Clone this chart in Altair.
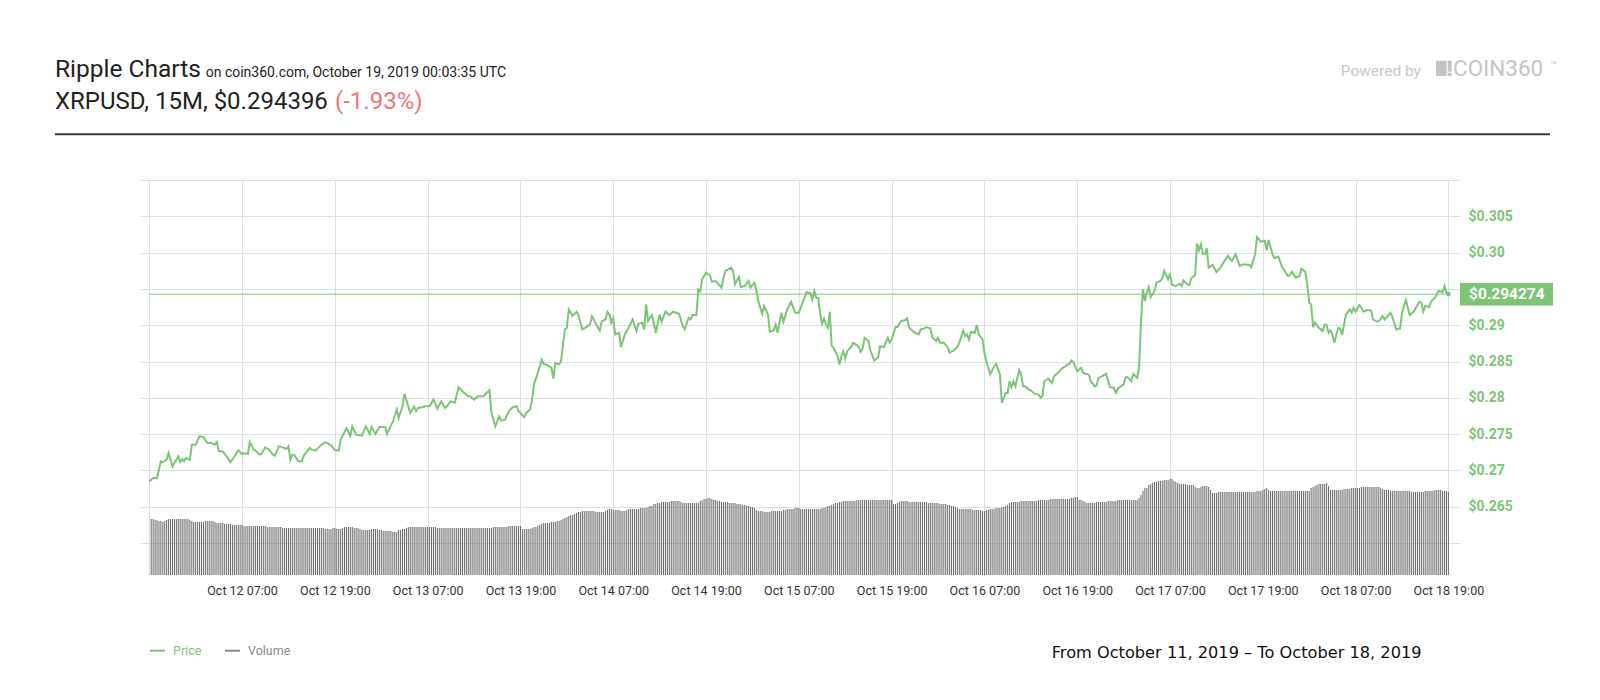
import altair as alt
import pandas as pd

# ---------------- data ----------------
START = "2019-10-11 19:00"          # time of the first (left-most) gridline
current_price = 0.294274
current_label = "$0.294274"

# price samples: hours after START, price in USD
price_hours = [
    0.0, 0.5, 1.0, 1.5, 1.75, 2.25, 2.5, 3.0, 3.25, 3.75, 4.0, 4.25, 4.5, 4.75, 5.25, 5.5, 6.0, 6.5, 7.0, 7.5,
    8.0, 8.5, 8.75, 9.0, 9.5, 10.0, 10.5, 10.75, 11.5, 12.0, 12.25, 12.75, 13.0, 13.5, 13.75, 14.25, 14.5, 15.0, 15.5, 16.0,
    16.25, 16.75, 17.25, 17.75, 18.0, 18.25, 18.5, 18.75, 19.25, 19.75, 20.0, 20.75, 21.0, 21.5, 22.25, 22.75, 23.0, 23.5, 24.0, 24.5,
    24.75, 25.5, 26.0, 26.25, 26.75, 27.5, 28.0, 28.5, 28.75, 29.25, 29.75, 30.5, 30.75, 31.25, 31.5, 32.0, 32.25, 32.75, 33.0, 33.75,
    34.25, 34.5, 34.75, 35.25, 35.75, 36.25, 36.75, 37.25, 37.75, 38.25, 38.5, 39.0, 39.5, 40.0, 40.75, 41.25, 41.5, 42.0, 42.5, 43.25,
    43.5, 44.0, 44.25, 44.75, 45.25, 45.5, 46.0, 46.5, 47.0, 47.5, 47.75, 48.5, 48.75, 49.25, 49.5, 49.75, 50.25, 50.75, 51.0, 51.5,
    52.0, 52.25, 52.5, 53.0, 53.25, 53.5, 53.75, 54.0, 54.25, 54.75, 55.25, 55.5, 56.0, 56.5, 57.0, 57.25, 57.75, 58.25, 58.5, 59.0,
    59.25, 59.5, 59.75, 60.0, 60.25, 60.75, 61.0, 61.5, 61.75, 62.25, 62.5, 63.0, 63.25, 63.75, 64.0, 64.25, 64.5, 65.0, 65.5, 66.0,
    66.25, 66.75, 67.25, 67.75, 68.5, 69.0, 69.25, 69.75, 70.0, 70.25, 70.75, 71.0, 71.25, 71.5, 72.0, 72.5, 72.75, 73.25, 74.0, 74.25,
    74.5, 75.25, 75.5, 75.75, 76.25, 76.5, 77.0, 77.5, 77.75, 78.25, 78.5, 78.75, 79.25, 79.5, 80.0, 80.25, 80.75, 81.0, 81.25, 81.75,
    82.0, 82.5, 83.0, 83.5, 84.0, 84.25, 84.75, 85.0, 85.5, 85.75, 86.0, 86.25, 86.5, 86.75, 87.0, 87.25, 87.5, 87.75, 88.0, 88.25,
    88.5, 89.0, 89.25, 89.5, 89.75, 90.0, 90.25, 90.75, 91.0, 91.5, 91.75, 92.0, 92.25, 92.5, 93.0, 93.25, 93.75, 94.25, 94.5, 95.0,
    95.5, 95.75, 96.0, 96.5, 96.75, 97.25, 97.75, 98.0, 98.25, 98.5, 99.0, 99.5, 99.75, 100.25, 100.5, 101.0, 101.25, 101.75, 102.0, 102.25,
    102.75, 103.25, 103.5, 104.0, 104.5, 104.75, 105.25, 105.5, 105.75, 106.0, 106.25, 106.75, 107.0, 107.25, 107.75, 108.0, 108.25, 108.75, 109.25, 109.5,
    110.0, 110.25, 110.75, 111.0, 111.25, 111.5, 111.75, 112.0, 112.5, 112.75, 113.0, 113.25, 113.75, 114.0, 114.5, 115.0, 115.25, 115.5, 115.75, 116.25,
    116.75, 117.0, 117.5, 118.0, 118.5, 118.75, 119.0, 119.25, 119.5, 120.0, 120.5, 120.75, 121.5, 121.75, 122.25, 122.5, 122.75, 123.25, 123.75, 124.0,
    124.25, 124.75, 125.0, 125.25, 126.0, 126.25, 126.5, 127.0, 127.25, 127.75, 128.0, 128.25, 128.5, 128.75, 129.0, 129.25, 129.5, 130.0, 130.25, 130.75,
    131.0, 131.25, 131.75, 132.0, 132.25, 132.75, 133.25, 133.5, 133.75, 134.25, 134.5, 134.75, 135.25, 135.5, 135.75, 136.0, 136.25, 136.5, 136.75, 137.0,
    137.5, 138.0, 138.5, 139.0, 139.5, 140.0, 140.5, 141.0, 141.5, 142.25, 142.5, 143.0, 143.25, 143.75, 144.25, 144.5, 144.75, 145.0, 145.25, 145.5,
    146.0, 146.5, 147.25, 147.5, 147.75, 148.25, 148.75, 149.0, 149.5, 149.75, 150.0, 150.25, 150.5, 150.75, 151.25, 151.75, 152.0, 152.25, 152.5, 152.75,
    153.0, 153.25, 153.5, 153.75, 154.0, 154.25, 154.75, 155.25, 155.5, 155.75, 156.0, 156.5, 156.75, 157.0, 157.5, 158.0, 158.25, 158.75, 159.0, 159.5,
    159.75, 160.5, 160.75, 161.0, 161.25, 161.75, 162.0, 162.5, 163.0, 163.5, 163.75, 164.25, 164.5, 164.75, 165.0, 165.5, 165.75, 166.25, 166.75, 167.25,
    167.5, 167.75, 168.0,
]
price_values = [
    0.26849, 0.26895, 0.26895, 0.27125, 0.27116, 0.27148, 0.27240, 0.27056, 0.27102, 0.27194, 0.27116, 0.27157, 0.27125, 0.27171, 0.27148, 0.27355, 0.27355, 0.27470, 0.27461, 0.27378,
    0.27378, 0.27355, 0.27392, 0.27263, 0.27263, 0.27194, 0.27116, 0.27148, 0.27277, 0.27226, 0.27240, 0.27226, 0.27392, 0.27286, 0.27272, 0.27217, 0.27226, 0.27318, 0.27286, 0.27217,
    0.27203, 0.27332, 0.27318, 0.27295, 0.27332, 0.27148, 0.27217, 0.27217, 0.27125, 0.27125, 0.27208, 0.27309, 0.27286, 0.27272, 0.27355, 0.27387, 0.27378, 0.27346, 0.27281, 0.27272,
    0.27424, 0.27585, 0.27479, 0.27608, 0.27493, 0.27479, 0.27608, 0.27502, 0.27599, 0.27502, 0.27599, 0.27599, 0.27502, 0.27622, 0.27668, 0.27838, 0.27723, 0.27884, 0.28054, 0.27792,
    0.27884, 0.27815, 0.27861, 0.27870, 0.27884, 0.27884, 0.27976, 0.27852, 0.27953, 0.27861, 0.27884, 0.27953, 0.27930, 0.28146, 0.28068, 0.28022, 0.28022, 0.27976, 0.28022, 0.28022,
    0.28054, 0.28105, 0.27792, 0.27608, 0.27746, 0.27686, 0.27700, 0.27815, 0.27870, 0.27884, 0.27815, 0.27732, 0.27792, 0.27838, 0.27976, 0.28183, 0.28344, 0.28528, 0.28468, 0.28450,
    0.28413, 0.28266, 0.28482, 0.28459, 0.28505, 0.28735, 0.28942, 0.28965, 0.29218, 0.29126, 0.29186, 0.29140, 0.28942, 0.28974, 0.29011, 0.29126, 0.29020, 0.28928, 0.29048, 0.29080,
    0.29186, 0.29149, 0.29034, 0.29094, 0.28873, 0.28896, 0.28698, 0.28873, 0.28919, 0.29020, 0.29080, 0.28919, 0.29020, 0.29034, 0.28942, 0.29287, 0.29057, 0.29140, 0.28896, 0.29149,
    0.29048, 0.29186, 0.29140, 0.29186, 0.29158, 0.28988, 0.28942, 0.29103, 0.29080, 0.29140, 0.29140, 0.29494, 0.29471, 0.29632, 0.29724, 0.29687, 0.29600, 0.29609, 0.29517, 0.29655,
    0.29747, 0.29793, 0.29747, 0.29563, 0.29664, 0.29526, 0.29540, 0.29609, 0.29517, 0.29586, 0.29494, 0.29333, 0.29158, 0.29264, 0.29149, 0.28910, 0.28928, 0.29011, 0.28896, 0.29172,
    0.29048, 0.29218, 0.29324, 0.29172, 0.29172, 0.29241, 0.29388, 0.29457, 0.29439, 0.29356, 0.29471, 0.29379, 0.29370, 0.29172, 0.29020, 0.29089, 0.29011, 0.28965, 0.29186, 0.28712,
    0.28689, 0.28574, 0.28459, 0.28574, 0.28643, 0.28542, 0.28643, 0.28698, 0.28758, 0.28726, 0.28698, 0.28634, 0.28680, 0.28827, 0.28781, 0.28652, 0.28514, 0.28560, 0.28712, 0.28698,
    0.28827, 0.28758, 0.28804, 0.28974, 0.28974, 0.29057, 0.29071, 0.29094, 0.28965, 0.28942, 0.28896, 0.28873, 0.28942, 0.28956, 0.28974, 0.28956, 0.28836, 0.28781, 0.28827, 0.28758,
    0.28758, 0.28698, 0.28620, 0.28652, 0.28698, 0.28758, 0.28928, 0.28850, 0.28873, 0.28804, 0.28910, 0.28896, 0.29002, 0.28873, 0.28804, 0.28620, 0.28505, 0.28321, 0.28436, 0.28468,
    0.28321, 0.27930, 0.28068, 0.28068, 0.28229, 0.28146, 0.28229, 0.28160, 0.28381, 0.28321, 0.28160, 0.28160, 0.28114, 0.28100, 0.28054, 0.28045, 0.27999, 0.28022, 0.28229, 0.28266,
    0.28206, 0.28298, 0.28344, 0.28404, 0.28436, 0.28459, 0.28468, 0.28514, 0.28491, 0.28367, 0.28413, 0.28344, 0.28321, 0.28229, 0.28160, 0.28169, 0.28275, 0.28298, 0.28331, 0.28229,
    0.28146, 0.28137, 0.28068, 0.28128, 0.28183, 0.28284, 0.28284, 0.28229, 0.28330, 0.28275, 0.28413, 0.29057, 0.29494, 0.29333, 0.29448, 0.29526, 0.29388, 0.29471, 0.29586, 0.29609,
    0.29646, 0.29747, 0.29632, 0.29710, 0.29554, 0.29540, 0.29572, 0.29540, 0.29618, 0.29563, 0.29554, 0.29646, 0.29692, 0.30124, 0.30032, 0.30115, 0.29986, 0.29977, 0.30060, 0.29793,
    0.29830, 0.29733, 0.29793, 0.29876, 0.29954, 0.29885, 0.29977, 0.29816, 0.29839, 0.29830, 0.29802, 0.29977, 0.30216, 0.30152, 0.30161, 0.30032, 0.30175, 0.30078, 0.29977, 0.29922,
    0.29945, 0.29802, 0.29678, 0.29692, 0.29738, 0.29655, 0.29678, 0.29779, 0.29733, 0.29563, 0.29310, 0.29287, 0.28974, 0.29034, 0.28965, 0.28919, 0.29011, 0.29002, 0.28896, 0.28928,
    0.28873, 0.28758, 0.28864, 0.28965, 0.28956, 0.28864, 0.29149, 0.29218, 0.29172, 0.29241, 0.29186, 0.29278, 0.29241, 0.29186, 0.29209, 0.29204, 0.29080, 0.29048, 0.29057, 0.29126,
    0.29080, 0.29172, 0.29112, 0.29034, 0.28942, 0.28956, 0.29172, 0.29347, 0.29140, 0.29186, 0.29232, 0.29324, 0.29310, 0.29186, 0.29264, 0.29250, 0.29324, 0.29379, 0.29471, 0.29457,
    0.29540, 0.29448, 0.29427,
]

# volume per 15-minute candle (arbitrary units, read as bar heights), 24 values = 6 hours per row
volume_values = [
    56, 56, 55, 55, 54, 54, 53, 54, 55, 56, 56, 56, 56, 56, 56, 56, 56, 56, 56, 56, 55, 54, 53, 53,
    53, 53, 53, 53, 54, 54, 54, 54, 54, 53, 52, 52, 52, 52, 51, 51, 51, 51, 50, 50, 50, 50, 50, 50,
    49, 49, 49, 49, 49, 49, 49, 49, 49, 49, 49, 49, 48, 48, 48, 48, 48, 48, 48, 48, 47, 47, 47, 47,
    47, 47, 47, 47, 47, 47, 47, 47, 47, 47, 47, 47, 47, 47, 47, 47, 47, 47, 46, 46, 46, 46, 47, 47,
    46, 46, 46, 47, 48, 48, 48, 48, 48, 47, 47, 47, 46, 45, 45, 45, 45, 45, 46, 46, 46, 46, 45, 45,
    44, 44, 44, 44, 44, 43, 43, 43, 45, 45, 46, 46, 47, 48, 48, 48, 48, 48, 48, 48, 48, 48, 48, 48,
    48, 48, 48, 48, 47, 47, 47, 47, 47, 47, 47, 47, 47, 47, 47, 47, 47, 47, 47, 47, 47, 47, 47, 47,
    47, 47, 47, 47, 47, 47, 47, 47, 47, 48, 48, 48, 48, 48, 48, 48, 48, 49, 49, 49, 49, 49, 49, 49,
    46, 46, 46, 46, 46, 47, 48, 48, 49, 50, 51, 52, 52, 52, 52, 53, 53, 53, 54, 54, 55, 56, 57, 58,
    59, 60, 60, 61, 62, 63, 63, 64, 64, 64, 64, 64, 64, 64, 63, 63, 63, 63, 63, 64, 65, 66, 66, 65,
    65, 65, 65, 64, 64, 64, 65, 66, 66, 66, 66, 66, 66, 67, 67, 67, 67, 68, 69, 69, 71, 71, 72, 72,
    73, 73, 73, 73, 73, 74, 74, 74, 74, 74, 73, 72, 72, 72, 72, 72, 72, 72, 72, 72, 74, 75, 76, 76,
    77, 77, 76, 75, 75, 74, 74, 73, 73, 73, 73, 72, 72, 72, 72, 71, 71, 71, 70, 70, 69, 69, 68, 68,
    67, 65, 64, 64, 64, 63, 63, 63, 63, 64, 64, 64, 64, 64, 64, 65, 65, 66, 66, 66, 66, 67, 67, 67,
    66, 66, 66, 66, 66, 66, 66, 66, 66, 66, 66, 67, 67, 68, 69, 69, 70, 71, 72, 72, 73, 73, 74, 74,
    74, 74, 74, 74, 74, 75, 75, 75, 75, 75, 75, 75, 75, 75, 75, 75, 75, 75, 75, 75, 75, 75, 75, 75,
    71, 71, 72, 73, 74, 74, 74, 74, 73, 73, 73, 73, 73, 73, 73, 73, 73, 73, 72, 72, 72, 72, 72, 72,
    71, 71, 71, 71, 70, 70, 69, 69, 68, 67, 66, 66, 66, 66, 66, 66, 66, 65, 65, 65, 65, 65, 64, 64,
    65, 65, 66, 66, 66, 67, 67, 67, 68, 68, 69, 70, 72, 73, 73, 73, 73, 73, 74, 74, 74, 74, 74, 74,
    74, 74, 74, 75, 75, 75, 75, 75, 75, 76, 76, 76, 76, 76, 76, 76, 76, 76, 76, 76, 77, 77, 78, 78,
    75, 75, 74, 73, 72, 72, 72, 72, 72, 73, 73, 73, 73, 73, 73, 74, 74, 74, 74, 74, 75, 75, 75, 75,
    75, 75, 75, 75, 75, 75, 75, 77, 80, 84, 87, 87, 90, 91, 92, 93, 93, 94, 94, 94, 95, 95, 95, 96,
    96, 94, 93, 92, 91, 91, 91, 91, 90, 90, 90, 90, 88, 87, 87, 88, 89, 89, 89, 88, 85, 82, 82, 82,
    83, 83, 83, 83, 83, 83, 83, 83, 83, 83, 83, 83, 83, 83, 83, 83, 83, 83, 83, 83, 84, 84, 84, 85,
    86, 87, 85, 84, 84, 84, 84, 84, 84, 84, 84, 84, 84, 84, 84, 84, 84, 84, 84, 84, 84, 84, 84, 84,
    87, 88, 89, 90, 91, 91, 91, 91, 92, 89, 85, 85, 85, 85, 85, 85, 85, 86, 86, 86, 86, 87, 87, 87,
    87, 87, 88, 88, 88, 88, 88, 88, 88, 88, 88, 88, 87, 86, 85, 85, 85, 84, 84, 84, 84, 84, 84, 84,
    84, 84, 84, 84, 83, 83, 83, 83, 83, 83, 83, 84, 84, 84, 84, 84, 85, 85, 85, 85, 84, 84, 84, 83,
]

x_ticks = [
    "2019-10-11 19:00", "2019-10-12 07:00", "2019-10-12 19:00", "2019-10-13 07:00", "2019-10-13 19:00",
    "2019-10-14 07:00", "2019-10-14 19:00", "2019-10-15 07:00", "2019-10-15 19:00", "2019-10-16 07:00",
    "2019-10-16 19:00", "2019-10-17 07:00", "2019-10-17 19:00", "2019-10-18 07:00", "2019-10-18 19:00",
]
y_ticks = [0.26, 0.265, 0.27, 0.275, 0.28, 0.285, 0.29, 0.295, 0.30, 0.305, 0.31]
x_domain = ["2019-10-11 17:48", "2019-10-18 20:30"]
y_domain = [0.2556, 0.31]
vol_domain = [0, 395]

# ---------------- build tables ----------------
t0 = pd.Timestamp(START)


def iso(h):
    return (t0 + pd.Timedelta(hours=h)).strftime("%Y-%m-%dT%H:%M:%SZ")


def dt(s):
    ts = pd.Timestamp(s)
    return alt.DateTime(year=ts.year, month=ts.month, date=ts.day,
                        hours=ts.hour, minutes=ts.minute, utc=True)


price_df = pd.DataFrame({"time": [iso(h) for h in price_hours], "price": price_values})
vol_df = pd.DataFrame({"time": [iso(0.25 * (i + 1)) for i in range(len(volume_values))],
                       "volume": volume_values})
cur_df = pd.DataFrame({"t0": [iso(price_hours[0])], "t1": [iso(price_hours[-1])],
                       "price": [current_price], "label": [current_label]})

GREEN = "#7cc576"
GRID = "#d9e1e8"

xscale = alt.Scale(type="utc", domain=[dt(s) for s in x_domain])
xaxis = alt.Axis(
    values=[dt(s) for s in x_ticks], grid=True, gridColor=GRID, gridWidth=1,
    domain=False, ticks=False, labelPadding=9, labelFont="Roboto", labelFontSize=12.5,
    labelColor="#333333", title=None,
    labelExpr="datum.value < 1570838400000 ? '' : utcFormat(datum.value, '%b %d %H:%M')",
)
yscale = alt.Scale(domain=y_domain, zero=False, nice=False)


def X(field="time"):
    return alt.X(f"{field}:T", scale=xscale, axis=xaxis)


volume = alt.Chart(vol_df).mark_rule(color="#6e6e6e", strokeWidth=1.05).encode(
    x=X(),
    y=alt.Y("volume:Q", scale=alt.Scale(domain=vol_domain), axis=None),
    y2=alt.datum(0),
)

price_line = alt.Chart(price_df).mark_line(color=GREEN, strokeWidth=2).encode(
    x=X(),
    y=alt.Y("price:Q", scale=yscale, axis=alt.Axis(
        orient="right", values=y_ticks, grid=True, gridColor=GRID, gridWidth=1,
        domain=False, ticks=False, labelPadding=8, labelFont="Roboto",
        labelFontSize=14, labelFontWeight="bold", labelColor=GREEN, title=None,
        labelExpr="(datum.value < 0.2625 || datum.value > 0.3075 || abs(datum.value - 0.295) < 0.001) ? '' : "
                  "(round(datum.value * 1000) % 10 == 0 ? '$' + format(datum.value, '.2f') : '$' + format(datum.value, '.3f'))",
    )),
)

cur_rule = alt.Chart(cur_df).mark_rule(color=GREEN, strokeWidth=1).encode(
    x=X("t0"), x2="t1:T", y=alt.Y("price:Q", scale=yscale, axis=None),
)
cur_dot = alt.Chart(cur_df).mark_circle(color=GREEN, size=22, opacity=1).encode(
    x=X("t1"), y=alt.Y("price:Q", scale=yscale, axis=None),
)
badge = alt.Chart(cur_df).mark_rect(color=GREEN, yOffset=-11.3, y2Offset=11.3).encode(
    x=alt.value(1320), x2=alt.value(1413),
    y=alt.Y("price:Q", scale=yscale, axis=None), y2="price",
)
badge_text = alt.Chart(cur_df).mark_text(
    align="left", baseline="middle", color="white", font="Roboto",
    fontSize=15.5, fontWeight="bold").encode(
    x=alt.value(1329), y=alt.Y("price:Q", scale=yscale, axis=None), text="label:N",
)


def label(text, x, y, size, color, font="Roboto", weight="normal", baseline="alphabetic"):
    return alt.Chart(pd.DataFrame({"t": [text]})).mark_text(
        align="left", baseline=baseline, font=font, fontSize=size,
        fontWeight=weight, color=color).encode(
        x=alt.value(x), y=alt.value(y), text="t:N")


def bar(x, x2, y, y2, color):
    return alt.Chart(pd.DataFrame({"k": [0]})).mark_rect(color=color).encode(
        x=alt.value(x), x2=alt.value(x2), y=alt.value(y), y2=alt.value(y2))


def hline(x, x2, y, color, width):
    return alt.Chart(pd.DataFrame({"k": [0]})).mark_rule(color=color, strokeWidth=width).encode(
        x=alt.value(x), x2=alt.value(x2), y=alt.value(y))


decor = [
    label("Ripple Charts", -85, -103.3, 24.5, "#222222"),
    label("on coin360.com, October 19, 2019 00:03:35 UTC", 65.7, -103.3, 14, "#222222"),
    label("XRPUSD, 15M, $0.294396", -85, -71, 24, "#222222"),
    label("(-1.93%)", 195, -71, 24, "#f07474"),
    hline(-85, 1410, -45.7, "#3a3a3a", 2),
    label("Powered by", 1200.7, -104, 15.5, "#c8c8c8"),
    bar(1296, 1306.7, -119.3, -104, "#c4c4c4"),
    bar(1307.7, 1311.7, -119.3, -108.3, "#c4c4c4"),
    bar(1307.7, 1311.7, -107.3, -104, "#c4c4c4"),
    label("COIN360", 1313, -104, 22.5, "#c4c4c4"),
    label("™", 1410, -111, 11, "#c4c4c4"),
    hline(10, 25, 470.7, GREEN, 2),
    label("Price", 33, 470.7, 12.5, GREEN, baseline="middle"),
    hline(85, 100, 470.7, "#8c8c8c", 2),
    label("Volume", 108, 470.7, 12.5, "#8c8c8c", baseline="middle"),
    label("From October 11, 2019 – To October 18, 2019", 911.7, 478, 16.2, "#111111", font="DejaVu Sans"),
]

chart = alt.layer(
    volume, price_line, cur_rule, cur_dot, badge, badge_text, *decor
).resolve_scale(y="independent").properties(
    width=1320, height=395,
    padding={"left": 132, "top": 172, "right": 112, "bottom": 105},
    autosize=alt.AutoSizeParams(type="none"),
    background="white",
).configure_view(strokeWidth=0)

chart.save("out.html", embed_options={"renderer": "svg", "actions": False})
